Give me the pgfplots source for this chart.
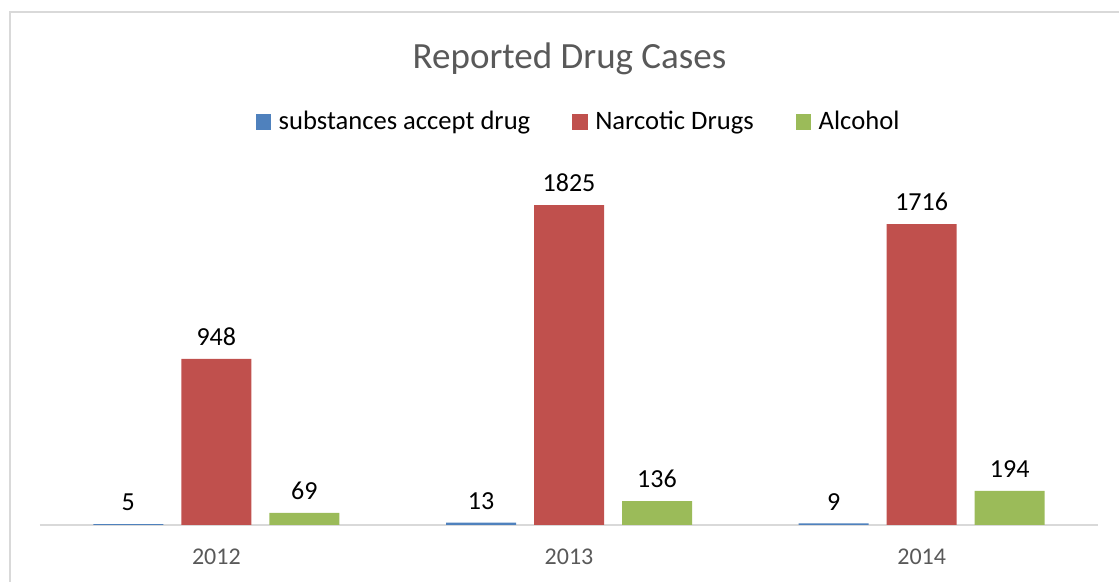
\documentclass[border=0pt]{standalone}
\usepackage{pgfplots}
\pgfplotsset{compat=1.18}
\usepackage{fontspec}
\setmainfont{Carlito}

\definecolor{sblue}{HTML}{4F81BD}
\definecolor{sred}{HTML}{C0504D}
\definecolor{sgreen}{HTML}{9BBB59}
\definecolor{gridgray}{HTML}{D9D9D9}
\definecolor{txtgray}{HTML}{595959}

\begin{document}
\begin{tikzpicture}
\useasboundingbox (0,0) rectangle (559.5pt,291pt);
\draw[gridgray, line width=0.8pt] (5pt,0) |- (560pt,285pt);
\node[txtgray, font=\fontsize{18.5}{22}\selectfont] at (284.75pt,261.5pt) {Reported Drug Cases};
\begin{axis}[
    at={(20pt,28.5pt)}, anchor=south west,
    scale only axis,
    width=529pt, height=175.3pt,
    xmin=-0.5, xmax=2.5,
    ymin=0, ymax=2000,
    ybar=9pt, bar width=35pt,
    axis x line=bottom, axis y line=none,
    x axis line style={draw=gridgray, line width=0.8pt, -},
    xtick={0,1,2}, xticklabels={2012,2013,2014},
    major tick length=0pt,
    xticklabel style={font=\fontsize{12}{14}\selectfont, text=txtgray, yshift=-8.5pt},
    clip=false,
    /pgf/number format/.cd, 1000 sep={}, assume math mode=true, /pgfplots/.cd,
    nodes near coords,
    every node near coord/.append style={font=\fontsize{13}{15}\selectfont, text=black, yshift=3pt},
    legend columns=3,
    legend style={draw=none, fill=none, at={(0.510,1.149)}, anchor=center,
        font=\fontsize{13.3}{16}\selectfont,
        /tikz/every even column/.append style={column sep=19pt}},
    legend image code/.code={\fill[#1] (0pt,-3.9pt) rectangle (7.8pt,3.9pt); \path (9.5pt,0pt);},
]
\addplot[fill=sblue, draw=none] coordinates {(0,5) (1,13) (2,9)};
\addplot[fill=sred, draw=none] coordinates {(0,948) (1,1825) (2,1716)};
\addplot[fill=sgreen, draw=none] coordinates {(0,69) (1,136) (2,194)};
\legend{substances accept drug, Narcotic Drugs, Alcohol}
\end{axis}
\end{tikzpicture}
\end{document}
